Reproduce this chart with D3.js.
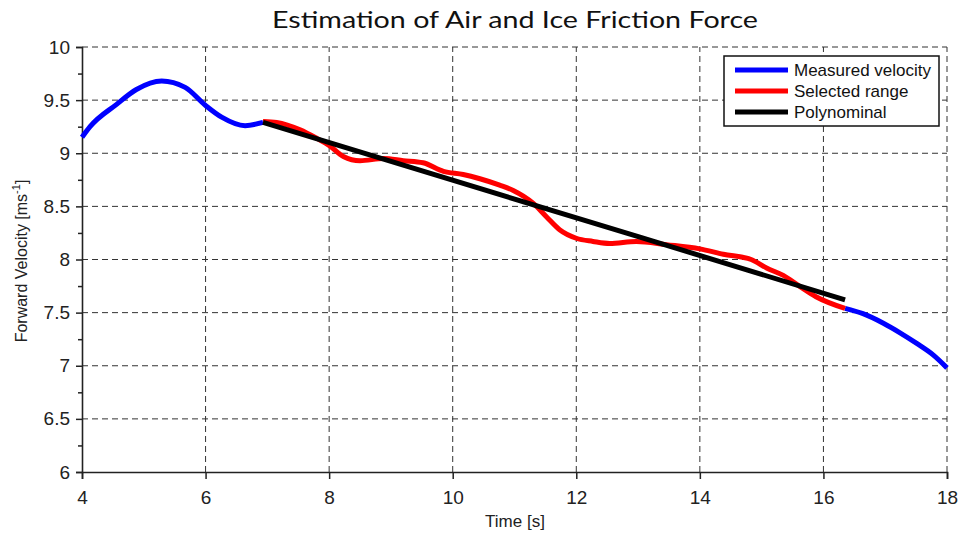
<!DOCTYPE html>
<html>
<head>
<meta charset="utf-8">
<script src="https://cdn.jsdelivr.net/npm/d3@7"></script>
<style>
  body { margin: 0; background: #fff; }
  svg { display: block; }
  .tick text { font-family: "Liberation Sans", Arial, sans-serif; font-size: 19px; fill: #222; }
</style>
</head>
<body>
<div id="chart"></div>
<script>
// measured velocity, before the selected range
var measuredT1 = [4.0, 4.13, 4.56, 4.88, 5.29, 5.67, 6.0, 6.26, 6.64, 6.93];
var measuredV1 = [9.15, 9.25, 9.46, 9.60, 9.68, 9.62, 9.45, 9.34, 9.26, 9.29];
// measured velocity, after the selected range
var measuredT2 = [16.35, 16.64, 16.97, 17.24, 17.51, 17.78, 18.0];
var measuredV2 = [7.54, 7.49, 7.40, 7.31, 7.21, 7.10, 6.98];
// selected range
var selectedT = [6.93, 7.15, 7.53, 7.80, 8.01, 8.23, 8.50, 8.88, 9.20, 9.52, 9.85, 10.17, 10.44, 10.76, 10.98,
  11.30, 11.52, 11.73, 12.0, 12.27, 12.54, 12.97, 13.46, 14.0, 14.38, 14.83, 15.08, 15.35, 15.61, 15.88, 16.35];
var selectedV = [9.30, 9.29, 9.22, 9.14, 9.07, 8.97, 8.93, 8.95, 8.93, 8.91, 8.83, 8.80, 8.76, 8.70, 8.65,
  8.53, 8.40, 8.28, 8.20, 8.17, 8.15, 8.17, 8.14, 8.10, 8.05, 8.00, 7.92, 7.85, 7.75, 7.65, 7.54];
// fitted polynominal
var polyT = [6.93, 13.03, 16.35];
var polyV = [9.29, 8.21, 7.62];

var xTicks = [4, 6, 8, 10, 12, 14, 16, 18];
var yTicks = [6, 6.5, 7, 7.5, 8, 8.5, 9, 9.5, 10];
var yMinor = [6.25, 6.75, 7.25, 7.75, 8.25, 8.75, 9.25, 9.75];

var legendNames = ['Measured velocity', 'Selected range', 'Polynominal'];
var legendColours = ['#0000ff', '#ff0000', '#000000'];

var width = 960, height = 533;
var margin = {left: 82, right: 13, top: 47, bottom: 61};

var svg = d3.select('#chart').append('svg')
  .attr('width', width)
  .attr('height', height);

var x = d3.scaleLinear().domain([4, 18]).range([margin.left, width - margin.right]);
var y = d3.scaleLinear().domain([6, 10]).range([height - margin.bottom, margin.top]);

// grid
var grid = svg.append('g').attr('stroke', '#333').attr('stroke-width', 1).attr('stroke-dasharray', '6,4');
grid.selectAll('.gx').data(xTicks.slice(1)).enter().append('line')
  .attr('x1', function(d) { return x(d); }).attr('x2', function(d) { return x(d); })
  .attr('y1', y(6)).attr('y2', y(10));
grid.selectAll('.gy').data(yTicks.slice(1)).enter().append('line')
  .attr('x1', x(4)).attr('x2', x(18))
  .attr('y1', function(d) { return y(d); }).attr('y2', function(d) { return y(d); });

// axes
var xAxis = svg.append('g')
  .attr('transform', 'translate(0,' + y(6) + ')')
  .call(d3.axisBottom(x).tickValues(xTicks).tickFormat(d3.format('d')).tickSize(7).tickPadding(12));
var yAxis = svg.append('g')
  .attr('transform', 'translate(' + x(4) + ',0)')
  .call(d3.axisLeft(y).tickValues(yTicks).tickFormat(function(d) { return d % 1 === 0 ? d : d.toFixed(1); }).tickSize(6).tickPadding(6));
svg.append('g')
  .attr('transform', 'translate(' + x(4) + ',0)')
  .call(d3.axisLeft(y).tickValues(yMinor).tickFormat('').tickSize(4))
  .select('.domain').remove();
svg.selectAll('.domain').attr('stroke', '#222').attr('stroke-width', 1.6);
svg.selectAll('.tick line').attr('stroke', '#222').attr('stroke-width', 1.5);

// curves
var line = d3.line()
  .x(function(d) { return x(d[0]); })
  .y(function(d) { return y(d[1]); })
  .curve(d3.curveMonotoneX);

function pairs(ts, vs) {
  return ts.map(function(t, i) { return [t, vs[i]]; });
}

var plot = svg.append('g').attr('fill', 'none').attr('stroke-width', 5).attr('stroke-linejoin', 'round');
plot.append('path').datum(pairs(measuredT1, measuredV1)).attr('stroke', legendColours[0]).attr('d', line);
plot.append('path').datum(pairs(measuredT2, measuredV2)).attr('stroke', legendColours[0]).attr('d', line);
plot.append('path').datum(pairs(selectedT, selectedV)).attr('stroke', legendColours[1]).attr('d', line);
plot.append('path').datum(pairs(polyT, polyV)).attr('stroke', legendColours[2])
  .attr('d', d3.line().x(function(d) { return x(d[0]); }).y(function(d) { return y(d[1]); }));

// legend
var legend = svg.append('g').attr('transform', 'translate(724,56)');
legend.append('rect').attr('width', 215).attr('height', 70)
  .attr('fill', '#fff').attr('stroke', '#111').attr('stroke-width', 1.5);
var items = legend.selectAll('.item').data(legendNames).enter().append('g')
  .attr('transform', function(d, i) { return 'translate(0,' + (14 + i * 21) + ')'; });
items.append('line').attr('x1', 11).attr('x2', 64).attr('y1', 0).attr('y2', 0)
  .attr('stroke', function(d, i) { return legendColours[i]; }).attr('stroke-width', 5);
items.append('text').attr('x', 70).attr('y', 6)
  .style('font-family', '"Liberation Sans", Arial, sans-serif').style('font-size', '17px').attr('fill', '#111')
  .text(function(d) { return d; });

// title and labels
svg.append('text').attr('x', 515).attr('y', 28).attr('text-anchor', 'middle')
  .style('font-family', 'Lato, "DejaVu Sans", sans-serif').style('font-weight', 400).style('font-size', '24px')
  .attr('textLength', 486).attr('lengthAdjust', 'spacingAndGlyphs').attr('fill', '#111')
  .text('Estimation of Air and Ice Friction Force');

svg.append('text').attr('x', 515).attr('y', 527).attr('text-anchor', 'middle')
  .style('font-family', '"Liberation Sans", Arial, sans-serif').style('font-size', '17px').attr('fill', '#222')
  .text('Time [s]');

var yl = svg.append('text').attr('transform', 'translate(27,261) rotate(-90)').attr('text-anchor', 'middle')
  .style('font-family', '"Liberation Sans", Arial, sans-serif').style('font-size', '16px').attr('fill', '#222');
yl.append('tspan').text('Forward Velocity [ms');
yl.append('tspan').attr('dy', -7).style('font-size', '11px').text('-1');
yl.append('tspan').attr('dy', 7).text(']');
</script>
</body>
</html>
